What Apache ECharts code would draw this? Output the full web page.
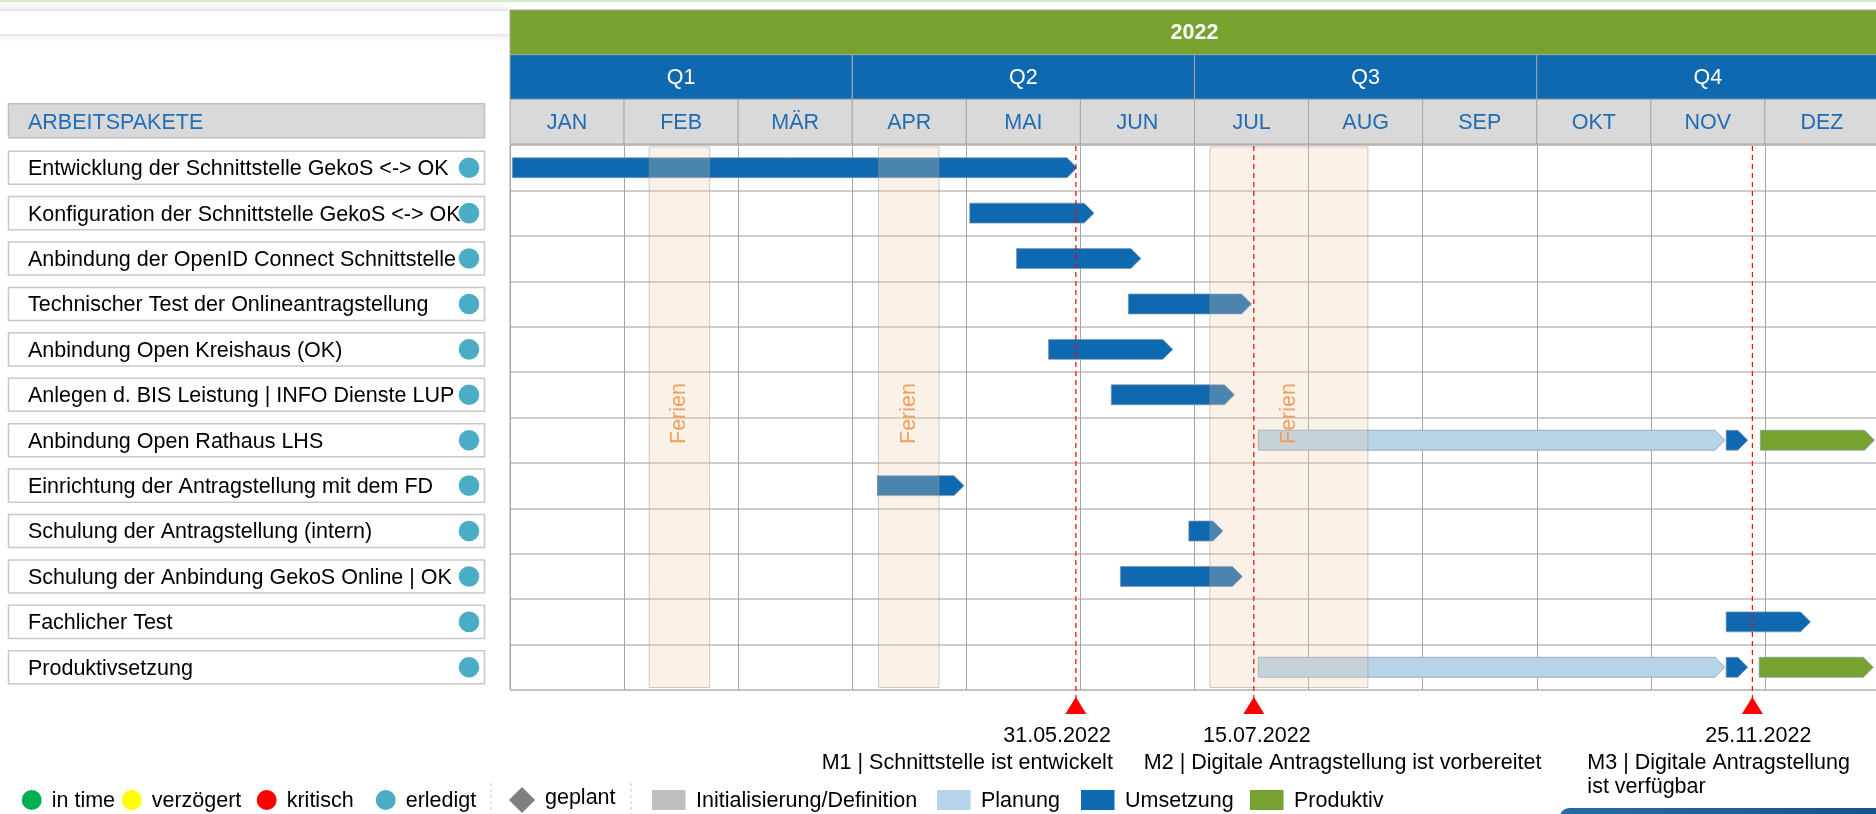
<!DOCTYPE html>
<html>
<head>
<meta charset="utf-8">
<script src="https://cdn.jsdelivr.net/npm/echarts@6/dist/echarts.min.js"></script>
<style>
html,body{margin:0;padding:0;background:#ffffff;}
#c{width:1876px;height:814px;}
</style>
</head>
<body>
<div id="c"></div>
<script>
// ---------------- DATA ----------------
const year = '2022';
const quarters = ['Q1', 'Q2', 'Q3', 'Q4'];
const months = ['JAN', 'FEB', 'MÄR', 'APR', 'MAI', 'JUN', 'JUL', 'AUG', 'SEP', 'OKT', 'NOV', 'DEZ'];
const headerRows = ['Jahr', 'Quartal', 'Monat'];
const listTitle = 'ARBEITSPAKETE';
const tasks = [
  'Entwicklung der Schnittstelle GekoS <-> OK',
  'Konfiguration der Schnittstelle GekoS <-> OK',
  'Anbindung der OpenID Connect Schnittstelle',
  'Technischer Test der Onlineantragstellung',
  'Anbindung Open Kreishaus (OK)',
  'Anlegen d. BIS Leistung | INFO Dienste LUP',
  'Anbindung Open Rathaus LHS',
  'Einrichtung der Antragstellung mit dem FD',
  'Schulung der Antragstellung (intern)',
  'Schulung der Anbindung GekoS Online | OK',
  'Fachlicher Test',
  'Produktivsetzung'
];
const taskStatus = ['erledigt','erledigt','erledigt','erledigt','erledigt','erledigt',
                    'erledigt','erledigt','erledigt','erledigt','erledigt','erledigt'];
// [row index, start (months from 1 Jan), end (months from 1 Jan)]
const planung = [[6, 6.56, 10.65], [11, 6.56, 10.65]];
const umsetzung = [
  [0, 0.02, 4.97], [1, 4.03, 5.12], [2, 4.44, 5.53], [3, 5.42, 6.50],
  [4, 4.72, 5.81], [5, 5.27, 6.35], [6, 10.66, 10.85], [7, 3.22, 3.98],
  [8, 5.95, 6.25], [9, 5.35, 6.42], [10, 10.66, 11.40], [11, 10.66, 10.85]
];
const produktiv = [[6, 10.96, 11.96], [11, 10.95, 11.95]];
const ferienLabel = 'Ferien';
const ferien = [[1.22, 1.75], [3.23, 3.76], [6.135, 7.52]];
const milestonePos = [4.96, 6.52, 10.89];
const milestoneDates = ['31.05.2022', '15.07.2022', '25.11.2022'];
const milestoneNames = [
  'M1 | Schnittstelle ist entwickelt',
  'M2 | Digitale Antragstellung ist vorbereitet',
  'M3 | Digitale Antragstellung\nist verfügbar'
];
const legendStatus = ['in time', 'verzögert', 'kritisch', 'erledigt'];
const legendPlanned = 'geplant';
const legendPhases = ['Initialisierung/Definition', 'Planung', 'Umsetzung', 'Produktiv'];

// ---------------- STYLE / LAYOUT ----------------
const FONT = '21.5px "Liberation Sans", Arial, Helvetica, sans-serif';
const FONT_B = 'bold 21.5px "Liberation Sans", Arial, Helvetica, sans-serif';
const C_GREEN = '#78a22f', C_BLUE = '#0f69b0', C_LIGHT = '#b7d3e8', C_GRAY = '#bfbfbf';
const C_HEAD_GRAY = '#d9d9d9', C_HEAD_TEXT = '#1f6cb5';
const statusColors = { 'in time': '#00b050', 'verzögert': '#ffff00', 'kritisch': '#ff0000', 'erledigt': '#4bacc6' };
const phaseColors = [C_GRAY, C_LIGHT, C_BLUE, C_GREEN];
const milestoneLayout = [
  { dateAlign: 'right', dateDx: 35, nameAlign: 'right', nameDx: 37 },
  { dateAlign: 'center', dateDx: 3, nameAlign: 'left', nameDx: -110 },
  { dateAlign: 'center', dateDx: 6, nameAlign: 'left', nameDx: -165 }
];
const legendStatusX = [31.7, 131.7, 266.7, 385.7];
const legendPhaseX = [652, 937, 1081, 1250];
const LEG_Y = 800;

// header cells built from arrays
const headerCells = [];
const headerLabels = [];
headerCells.push([0, 12, 0]); headerLabels.push(year);
quarters.forEach((q, i) => { headerCells.push([i * 3, i * 3 + 3, 1]); headerLabels.push(q); });
months.forEach((m, i) => { headerCells.push([i, i + 1, 2]); headerLabels.push(m); });
const headerFill = [C_GREEN, C_BLUE, C_HEAD_GRAY];
const headerText = ['#ffffff', '#ffffff', C_HEAD_TEXT];
const headerFont = [FONT_B, FONT, FONT];

function hiddenAxis(extra) {
  return Object.assign({
    axisLine: { show: false }, axisTick: { show: false },
    axisLabel: { show: false }, splitLine: { show: false }
  }, extra);
}

function barRenderer(color) {
  return function (params, api) {
    const row = api.value(0);
    const a = api.coord([api.value(1), row]);
    const b = api.coord([api.value(2), row]);
    const h = api.size([0, 1])[1] * 0.44;
    const tip = Math.min(10, (b[0] - a[0]) * 0.5);
    const y0 = a[1] - h / 2, y1 = a[1] + h / 2;
    return {
      type: 'polygon',
      shape: { points: [[a[0], y0], [b[0] - tip, y0], [b[0], a[1]], [b[0] - tip, y1], [a[0], y1]] },
      style: { fill: color, stroke: 'rgba(130,150,170,0.7)', lineWidth: 1 }
    };
  };
}

const chart = echarts.init(document.getElementById('c'), null, { renderer: 'canvas', width: 1876, height: 814 });

// legend graphics
const legendEls = [];
legendStatus.forEach((s, i) => {
  legendEls.push({ type: 'circle', shape: { cx: legendStatusX[i], cy: LEG_Y, r: 10 }, style: { fill: statusColors[s] } });
  legendEls.push({ type: 'text', style: { text: s, x: legendStatusX[i] + 20, y: LEG_Y + 1, font: FONT, fill: '#000', textAlign: 'left', textVerticalAlign: 'middle' } });
});
legendEls.push({ type: 'line', shape: { x1: 491, y1: 783, x2: 491, y2: 814 }, style: { stroke: '#c8c8c8', lineWidth: 1, lineDash: [3, 3] } });
legendEls.push({ type: 'polygon', shape: { points: [[522, LEG_Y - 13], [535, LEG_Y], [522, LEG_Y + 13], [509, LEG_Y]] }, style: { fill: '#7f7f7f' } });
legendEls.push({ type: 'text', style: { text: legendPlanned, x: 545, y: LEG_Y - 2, font: FONT, fill: '#000', textAlign: 'left', textVerticalAlign: 'middle' } });
legendEls.push({ type: 'line', shape: { x1: 631, y1: 783, x2: 631, y2: 814 }, style: { stroke: '#c8c8c8', lineWidth: 1, lineDash: [3, 3] } });
legendPhases.forEach((p, i) => {
  legendEls.push({ type: 'rect', shape: { x: legendPhaseX[i], y: LEG_Y - 10, width: 33.5, height: 20 }, style: { fill: phaseColors[i] } });
  legendEls.push({ type: 'text', style: { text: p, x: legendPhaseX[i] + 44, y: LEG_Y + 1, font: FONT, fill: '#000', textAlign: 'left', textVerticalAlign: 'middle' } });
});

const option = {
  backgroundColor: '#ffffff',
  animation: false,
  grid: [
    { left: 510, top: 145, width: 1369, height: 545, show: true, borderColor: '#a6a6a6', borderWidth: 1, outerBoundsMode: 'none' },
    { left: 510, top: 10, width: 1369, height: 134, outerBoundsMode: 'none' },
    { left: 8, top: 145, width: 476, height: 545, outerBoundsMode: 'none' },
    { left: 8, top: 10, width: 476, height: 134, outerBoundsMode: 'none' }
  ],
  xAxis: [
    { type: 'value', gridIndex: 0, min: 0, max: 12, interval: 1,
      axisLine: { show: false }, axisTick: { show: false }, axisLabel: { show: false },
      splitLine: { show: true, lineStyle: { color: '#a6a6a6', width: 1 } } },
    hiddenAxis({ type: 'value', gridIndex: 1, min: 0, max: 12 }),
    hiddenAxis({ type: 'value', gridIndex: 2, min: 0, max: 1 }),
    hiddenAxis({ type: 'value', gridIndex: 3, min: 0, max: 1 })
  ],
  yAxis: [
    { type: 'category', gridIndex: 0, data: tasks, inverse: true,
      axisLine: { show: false }, axisTick: { show: false }, axisLabel: { show: false, interval: 0 },
      splitLine: { show: true, interval: 0, lineStyle: { color: '#bdbdbd', width: 1.5 } } },
    hiddenAxis({ type: 'category', gridIndex: 1, data: headerRows, inverse: true }),
    hiddenAxis({ type: 'category', gridIndex: 2, data: tasks, inverse: true }),
    hiddenAxis({ type: 'category', gridIndex: 3, data: headerRows, inverse: true })
  ],
  graphic: {
    elements: [
      { type: 'rect', shape: { x: 0, y: 0, width: 1876, height: 2 }, style: { fill: '#d6edc4' }, z: 1 },
      { type: 'rect', shape: { x: -20, y: 11, width: 530, height: 23 },
        style: { fill: '#ffffff', shadowBlur: 8, shadowColor: 'rgba(0,0,0,0.22)' }, z: -1 },
      { type: 'rect', shape: { x: 1560, y: 808, width: 330, height: 20, r: [9, 0, 0, 0] },
        style: { fill: new echarts.graphic.LinearGradient(0, 0, 1, 0, [{ offset: 0, color: '#2a6aa5' }, { offset: 1, color: '#1c4f88' }]) } }
    ].concat(legendEls)
  },
  series: [
    {
      type: 'custom', name: 'Kopf', xAxisIndex: 1, yAxisIndex: 1,
      encode: { x: [0, 1], y: 2 }, data: headerCells, silent: true,
      renderItem: function (params, api) {
        const i = params.dataIndex, row = api.value(2);
        const a = api.coord([api.value(0), row]);
        const b = api.coord([api.value(1), row]);
        const h = api.size([0, 1])[1];
        return {
          type: 'group', children: [
            { type: 'rect', shape: { x: a[0], y: a[1] - h / 2, width: b[0] - a[0], height: h },
              style: { fill: headerFill[row], stroke: '#a6a6a6', lineWidth: 1 } },
            { type: 'text', style: { text: headerLabels[i], x: (a[0] + b[0]) / 2, y: a[1] + 1,
              textAlign: 'center', textVerticalAlign: 'middle', font: headerFont[row], fill: headerText[row] } }
          ]
        };
      }
    },
    {
      type: 'custom', name: 'Titel', xAxisIndex: 3, yAxisIndex: 3,
      encode: { y: 0 }, data: [[2]], silent: true,
      renderItem: function (params, api) {
        const a = api.coord([0, 2]);
        const b = api.coord([1, 2]);
        const h = 34;
        return {
          type: 'group', children: [
            { type: 'rect', shape: { x: a[0] + 0.5, y: a[1] - 1 - h / 2, width: b[0] - a[0], height: h },
              style: { fill: '#d9d9d9', stroke: '#bfbfbf', lineWidth: 1.5 } },
            { type: 'text', style: { text: listTitle, x: a[0] + 20, y: a[1] + 1, textAlign: 'left',
              textVerticalAlign: 'middle', font: FONT, fill: '#1f6fb8' } }
          ]
        };
      }
    },
    {
      type: 'custom', name: 'Arbeitspakete', xAxisIndex: 2, yAxisIndex: 2,
      encode: { y: 0 }, data: tasks.map((t, i) => [i]), silent: true,
      renderItem: function (params, api) {
        const i = params.dataIndex;
        const a = api.coord([0, i]);
        const b = api.coord([1, i]);
        const h = api.size([0, 1])[1] * 0.727;
        return {
          type: 'group', children: [
            { type: 'rect', shape: { x: a[0] + 0.5, y: a[1] - h / 2, width: b[0] - a[0], height: h },
              style: { fill: '#ffffff', stroke: '#c8c8c8', lineWidth: 1.5 } },
            { type: 'text', style: { text: tasks[i], x: a[0] + 20, y: a[1] + 1.5, textAlign: 'left',
              textVerticalAlign: 'middle', font: FONT, fill: '#000000' } },
            { type: 'circle', shape: { cx: b[0] - 15, cy: a[1], r: 10.3 }, style: { fill: statusColors[taskStatus[i]] } }
          ]
        };
      }
    },
    { type: 'custom', name: 'Planung', xAxisIndex: 0, yAxisIndex: 0, z: 2,
      encode: { x: [1, 2], y: 0 }, data: planung, renderItem: barRenderer(C_LIGHT) },
    { type: 'custom', name: 'Umsetzung', xAxisIndex: 0, yAxisIndex: 0, z: 2,
      encode: { x: [1, 2], y: 0 }, data: umsetzung, renderItem: barRenderer(C_BLUE) },
    { type: 'custom', name: 'Produktiv', xAxisIndex: 0, yAxisIndex: 0, z: 2,
      encode: { x: [1, 2], y: 0 }, data: produktiv, renderItem: barRenderer(C_GREEN) },
    {
      type: 'custom', name: 'Ferien', xAxisIndex: 0, yAxisIndex: 0, z: 3, silent: true,
      encode: { x: [0, 1] }, data: ferien,
      renderItem: function (params, api) {
        const cs = params.coordSys;
        const x0 = api.coord([api.value(0), 0])[0];
        const x1 = api.coord([api.value(1), 0])[0];
        const y0 = cs.y + 2, y1 = cs.y + cs.height - 2.5;
        return {
          type: 'group', children: [
            { type: 'rect', shape: { x: x0, y: y0, width: x1 - x0, height: y1 - y0 },
              style: { fill: 'rgba(236,205,175,0.28)', stroke: 'rgba(150,140,130,0.45)', lineWidth: 1 } },
            { type: 'text', x: (x0 + x1) / 2, y: cs.y + cs.height / 2 - 4, rotation: Math.PI / 2,
              style: { text: ferienLabel, x: 0, y: 0, textAlign: 'center', textVerticalAlign: 'middle', font: FONT, fill: '#f59d56' } }
          ]
        };
      }
    },
    {
      type: 'custom', name: 'Meilensteine', xAxisIndex: 0, yAxisIndex: 0, z: 6, clip: false, silent: true,
      encode: { x: 0 }, data: milestonePos.map(v => [v]),
      renderItem: function (params, api) {
        const cs = params.coordSys;
        const i = params.dataIndex;
        const L = milestoneLayout[i];
        const x = api.coord([api.value(0), 0])[0];
        const top = cs.y, bot = cs.y + cs.height;
        return {
          type: 'group', children: [
            { type: 'line', shape: { x1: x, y1: top + 1, x2: x, y2: bot + 9 },
              style: { stroke: '#ff0000', lineWidth: 1.2, lineDash: [5, 4] } },
            { type: 'polygon', shape: { points: [[x, bot + 7], [x + 10.5, bot + 24], [x - 10.5, bot + 24]] },
              style: { fill: '#ff0000' } },
            { type: 'text', style: { text: milestoneDates[i], x: x + L.dateDx, y: bot + 46,
              textAlign: L.dateAlign, textVerticalAlign: 'middle', font: FONT, fill: '#000000' } },
            { type: 'text', style: { text: milestoneNames[i], x: x + L.nameDx, y: bot + 61,
              textAlign: L.nameAlign, textVerticalAlign: 'top', font: FONT, fill: '#000000', lineHeight: 24 } }
          ]
        };
      }
    }
  ]
};
chart.setOption(option);
</script>
</body>
</html>
